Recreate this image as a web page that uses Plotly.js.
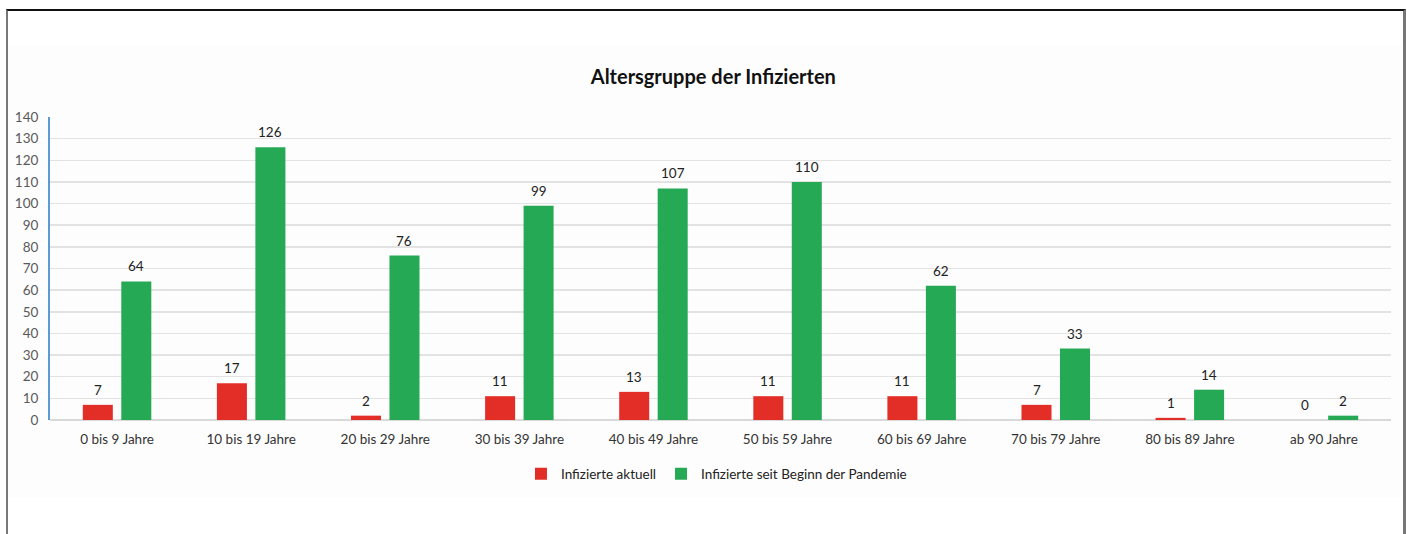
<!DOCTYPE html>
<html>
<head>
<meta charset="utf-8">
<script src="https://cdn.plot.ly/plotly-3.0.1.min.js"></script>
<style>
html,body{margin:0;padding:0;background:#fff;}
#wrap{position:relative;width:1407px;height:534px;overflow:hidden;}
#bg{position:absolute;left:8px;top:45px;width:1394px;height:452px;background:#fdfdfd;}
#frame{position:absolute;left:6px;top:9px;width:1395px;height:600px;border-top:2px solid #111;border-left:2px solid #777;border-right:3px solid #777;}
#chart{position:absolute;left:0;top:0;width:1407px;height:534px;}
</style>
</head>
<body>
<div id="wrap">
<div id="bg"></div>
<div id="frame"></div>
<div id="chart"></div>
</div>
<script>
const categories = ["0 bis 9 Jahre","10 bis 19 Jahre","20 bis 29 Jahre","30 bis 39 Jahre","40 bis 49 Jahre","50 bis 59 Jahre","60 bis 69 Jahre","70 bis 79 Jahre","80 bis 89 Jahre","ab 90 Jahre"];
const aktuell = [7,17,2,11,13,11,11,7,1,0];
const seitBeginn = [64,126,76,99,107,110,62,33,14,2];
const seriesNames = ["Infizierte aktuell","Infizierte seit Beginn der Pandemie"];
const titleText = "Altersgruppe der Infizierten";
const yTicks = [0,10,20,30,40,50,60,70,80,90,100,110,120,130,140];

const fontFam = "Lato, 'Open Sans', sans-serif";
const colors = ['#e32d27', '#26a955'];
const bargap = 0.426, bargroupgap = 0.22;
const plotW = 1407 - 50 - 16;
const slotPx = plotW / categories.length * (1 - bargap) / 2;

const traces = [
  {type:'bar', name:seriesNames[0], x:categories, y:aktuell, marker:{color:colors[0]}, hoverinfo:'none'},
  {type:'bar', name:seriesNames[1], x:categories, y:seitBeginn, marker:{color:colors[1]}, hoverinfo:'none'}
];
const annotations = [];
[aktuell, seitBeginn].forEach((vals, si) => {
  vals.forEach((v, i) => {
    annotations.push({x:categories[i], y:v, xref:'x', yref:'y', text:String(v), showarrow:false,
      xshift:(si === 0 ? -1 : 1) * slotPx / 2, yshift:15, yanchor:'middle',
      font:{color:'#222', size:13.5, family:fontFam}});
  });
});
const layout = {
  width:1407, height:534,
  margin:{l:50, r:16, t:117, b:114},
  paper_bgcolor:'rgba(0,0,0,0)', plot_bgcolor:'rgba(0,0,0,0)',
  font:{family:fontFam, color:'#595959', size:13.5},
  title:{text:'<b>'+titleText+'</b>', x:0.507, xanchor:'center', y:0.855, yanchor:'middle', font:{size:20, color:'#111', family:fontFam}},
  barmode:'group', bargap:bargap, bargroupgap:bargroupgap,
  xaxis:{type:'category', showgrid:false, showline:false, zeroline:false, ticks:'', ticklabelstandoff:9, tickfont:{color:'#333', size:13.5}},
  yaxis:{range:[0,140], tickvals:yTicks, showgrid:true, gridcolor:'#e3e3e3', gridwidth:1.5, zeroline:true, zerolinecolor:'#d9d9d9', zerolinewidth:1.5,
         showline:true, linecolor:'#5b9bd5', linewidth:2, ticks:'', ticklabelstandoff:7, tickfont:{color:'#595959', size:13.5}},
  showlegend:true,
  legend:{orientation:'h', x:0.497, xanchor:'center', y:-0.178, yanchor:'middle', font:{color:'#222', size:13.5}, traceorder:'normal'},
  annotations:annotations
};
Plotly.newPlot('chart', traces, layout, {displayModeBar:false, staticPlot:true});
</script>
</body>
</html>
